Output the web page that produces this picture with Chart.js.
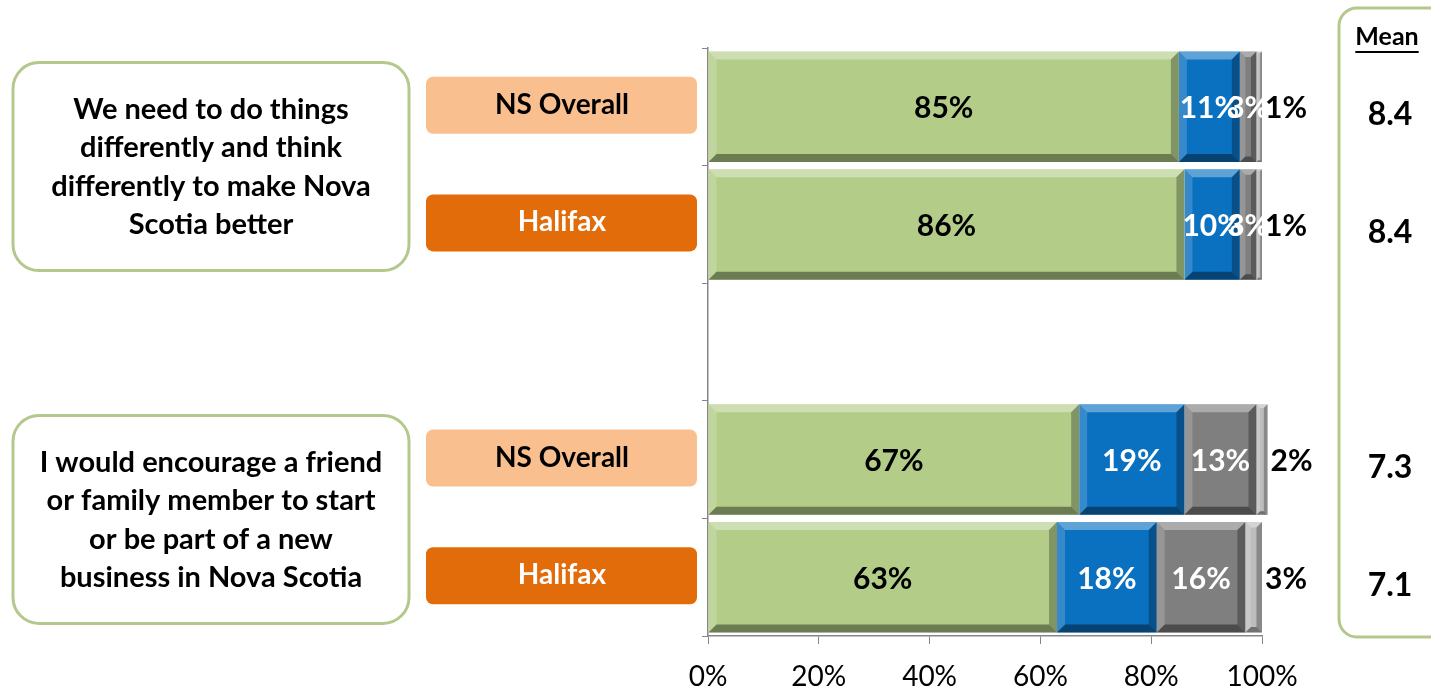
<!DOCTYPE html>
<html>
<head>
<meta charset="utf-8">
<script src="https://cdn.jsdelivr.net/npm/chart.js@4"></script>
<style>
  body { margin: 0; background: #fff; }
  #wrap { width: 1431px; height: 690px; }
</style>
</head>
<body>
<div id="wrap"><canvas id="grafico" width="1431" height="690"></canvas></div>
<script>
// dados
const categorias = ["NS Overall", "Halifax", "", "NS Overall", "Halifax"];
const verde = [85, 86, null, 67, 63];
const azul = [11, 10, null, 19, 18];
const cinza = [3, 3, null, 13, 16];
const claro = [1, 1, null, 2, 3];
const medias = ["8.4", "8.4", null, "7.3", "7.1"];
const frases = [
  ["We need to do things", "differently and think", "differently to make Nova", "Scotia better"],
  ["I would encourage a friend", "or family member to start", "or be part of a new", "business in Nova Scotia"]
];
const xTicks = [0, 20, 40, 60, 80, 100];

const FONTE = "Lato, 'Open Sans', sans-serif";

function caixa(ctx, x, y, w, h, r) {
  ctx.beginPath();
  ctx.roundRect(x, y, w, h, r);
}

// bisel + rótulos das barras
const pluginBarras = {
  id: "barras",
  afterDatasetsDraw(chart) {
    const ctx = chart.ctx;
    ctx.save();
    chart.data.datasets.forEach((ds, i) => {
      chart.getDatasetMeta(i).data.forEach((bar, j) => {
        if (ds.data[j] == null) return;
        const p = bar.getProps(["x", "y", "base", "height"], true);
        const l = Math.min(p.base, p.x), r = Math.max(p.base, p.x);
        const t = p.y - p.height / 2, b = p.y + p.height / 2;
        const e = Math.min(8, (r - l) / 3);
        const poly = (pts, cor) => {
          ctx.beginPath();
          ctx.moveTo(pts[0][0], pts[0][1]);
          pts.slice(1).forEach(q => ctx.lineTo(q[0], q[1]));
          ctx.closePath();
          ctx.fillStyle = cor;
          ctx.fill();
        };
        poly([[l, t], [r, t], [r - e, t + e], [l + e, t + e]], "rgba(255,255,255,0.35)");
        poly([[l, t], [l + e, t + e], [l + e, b - e], [l, b]], "rgba(255,255,255,0.18)");
        poly([[l, b], [l + e, b - e], [r - e, b - e], [r, b]], "rgba(0,0,0,0.40)");
        poly([[r, t], [r, b], [r - e, b - e], [r - e, t + e]], "rgba(0,0,0,0.28)");
      });
    });
    ctx.font = "bold 30px " + FONTE;
    ctx.textBaseline = "middle";
    ctx.textAlign = "center";
    chart.data.datasets.forEach((ds, i) => {
      chart.getDatasetMeta(i).data.forEach((bar, j) => {
        const v = ds.data[j];
        if (v == null) return;
        const p = bar.getProps(["x", "y", "base"], true);
        let x = (p.base + p.x) / 2;
        ctx.fillStyle = ds.corRotulo;
        if (i === 3) { x = p.x + 24; ctx.fillStyle = "#000"; }
        ctx.fillText(v + "%", x, p.y + 2);
      });
    });
    ctx.restore();
  },
  afterDraw(chart) {
    const ctx = chart.ctx;
    const y = chart.scales.y;
    ctx.save();
    // caixas das frases
    frases.forEach((linhas, k) => {
      const meio = (y.getPixelForValue(k * 3) + y.getPixelForValue(k * 3 + 1)) / 2 + 1;
      ctx.lineWidth = 3;
      ctx.strokeStyle = "#B4C88C";
      ctx.fillStyle = "#fff";
      caixa(ctx, 13, meio - 104, 396, 208, 26);
      ctx.fill();
      ctx.stroke();
      ctx.fillStyle = "#000";
      ctx.font = "bold 29px " + FONTE;
      ctx.textAlign = "center";
      ctx.textBaseline = "middle";
      linhas.forEach((txt, n) => ctx.fillText(txt, 211, meio - 57 + n * 38.5));
    });
    // rótulos das categorias
    categorias.forEach((c, j) => {
      if (!c) return;
      const cy = y.getPixelForValue(j);
      const hal = c === "Halifax";
      ctx.fillStyle = hal ? "#E36C0A" : "#F9BF8F";
      caixa(ctx, 426, cy - 30, 271, 57, 7);
      ctx.fill();
      ctx.fillStyle = hal ? "#fff" : "#000";
      ctx.font = "bold 28px " + FONTE;
      ctx.textAlign = "center";
      ctx.textBaseline = "middle";
      ctx.fillText(c, 562, cy - 2);
    });
    // coluna da média
    ctx.lineWidth = 3;
    ctx.strokeStyle = "#B4C88C";
    caixa(ctx, 1339, 8, 110, 629, 18);
    ctx.stroke();
    ctx.fillStyle = "#000";
    ctx.font = "bold 25px " + FONTE;
    ctx.textAlign = "center";
    ctx.textBaseline = "middle";
    ctx.fillText("Mean", 1387, 37);
    const w = ctx.measureText("Mean").width;
    ctx.fillRect(1387 - w / 2, 51, w, 2);
    ctx.font = "bold 32px " + FONTE;
    medias.forEach((m, j) => {
      if (m == null) return;
      ctx.fillText(m, 1390, y.getPixelForValue(j) + 8);
    });
    ctx.restore();
  }
};

const ctx = document.getElementById("grafico").getContext("2d");
new Chart(ctx, {
  type: "bar",
  data: {
    labels: categorias,
    datasets: [
      { label: "8-10", data: verde, backgroundColor: "#B3CD89", corRotulo: "#000" },
      { label: "5-7", data: azul, backgroundColor: "#0A70C0", corRotulo: "#fff" },
      { label: "0-4", data: cinza, backgroundColor: "#7F7F7F", corRotulo: "#fff" },
      { label: "DK", data: claro, backgroundColor: "#BDBDBD", corRotulo: "#000" }
    ]
  },
  options: {
    indexAxis: "y",
    responsive: false,
    animation: false,
    devicePixelRatio: 1,
    clip: false,
    layout: { padding: { left: 700, right: 169, top: 48, bottom: 0 } },
    datasets: { bar: { barPercentage: 0.94, categoryPercentage: 1, borderWidth: 0 } },
    plugins: { legend: { display: false }, tooltip: { enabled: false } },
    scales: {
      x: {
        stacked: true,
        min: 0,
        max: 100,
        afterBuildTicks: (s) => { s.ticks = xTicks.map(v => ({ value: v })); },
        afterFit: (s) => { s.height = 54; },
        ticks: {
          callback: (v) => v + "%",
          color: "#000",
          font: { family: FONTE, size: 28 },
          padding: 16,
          maxRotation: 0
        },
        grid: { drawOnChartArea: false, tickLength: 8, color: "#868686" },
        border: { color: "#868686", width: 1.5 }
      },
      y: {
        stacked: true,
        afterFit: (s) => { s.width = 8; },
        ticks: { display: false },
        grid: { offset: true, drawOnChartArea: false, tickLength: 6, color: "#868686" },
        border: { color: "#868686", width: 1.5 }
      }
    }
  },
  plugins: [pluginBarras]
});
</script>
</body>
</html>
